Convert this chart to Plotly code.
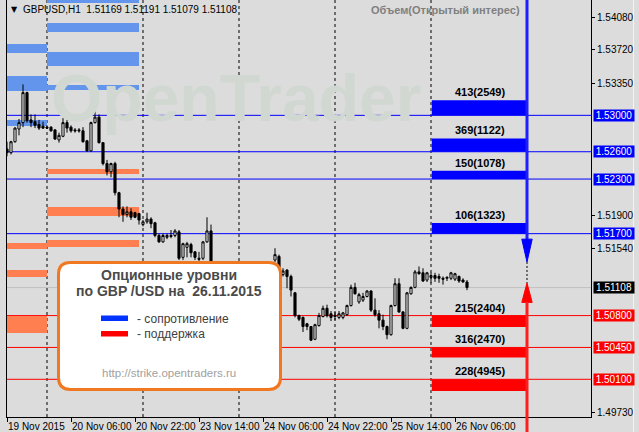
import plotly.graph_objects as go

# ---------------- data ----------------
bar_index = list(range(116))
opens = [1.5263, 1.5259, 1.5271, 1.5285, 1.5292, 1.5325, 1.5295, 1.5293, 1.5290, 1.5288,
         1.5287, 1.5287, 1.5284, 1.5273, 1.5277, 1.5292, 1.5287, 1.5284, 1.5284, 1.5283,
         1.5272, 1.5261, 1.5292, 1.5298, 1.5270, 1.5247, 1.5238, 1.5247, 1.5215, 1.5197,
         1.5191, 1.5194, 1.5193, 1.5192, 1.5180, 1.5183, 1.5186, 1.5182, 1.5168, 1.5161,
         1.5166, 1.5168, 1.5168, 1.5172, 1.5144, 1.5155, 1.5158, 1.5150, 1.5143, 1.5143,
         1.5161, 1.5173, 1.5125, 1.5116, 1.5121, 1.5118, 1.5108, 1.5112, 1.5117, 1.5111,
         1.5114, 1.5122, 1.5116, 1.5121, 1.5127, 1.5123, 1.5130, 1.5141, 1.5145, 1.5125,
         1.5130, 1.5123, 1.5105, 1.5080, 1.5078, 1.5071, 1.5068, 1.5054, 1.5069, 1.5079,
         1.5088, 1.5082, 1.5080, 1.5078, 1.5078, 1.5081, 1.5091, 1.5111, 1.5095, 1.5097,
         1.5101, 1.5107, 1.5086, 1.5082, 1.5075, 1.5068, 1.5059, 1.5091, 1.5115, 1.5084,
         1.5066, 1.5104, 1.5111, 1.5128, 1.5127, 1.5119, 1.5122, 1.5124, 1.5123, 1.5121,
         1.5121, 1.5121, 1.5120, 1.5123, 1.5119, 1.51169]
highs = [1.5271, 1.5272, 1.5287, 1.5296, 1.5334, 1.5326, 1.5301, 1.5301, 1.5295, 1.5293,
         1.5289, 1.5288, 1.5285, 1.5281, 1.5297, 1.5295, 1.5289, 1.5286, 1.5286, 1.5287,
         1.5273, 1.5293, 1.5309, 1.5301, 1.5270, 1.5251, 1.5248, 1.5249, 1.5216, 1.5200,
         1.5200, 1.5198, 1.5194, 1.5193, 1.5185, 1.5193, 1.5188, 1.5183, 1.5170, 1.5170,
         1.5170, 1.5174, 1.5175, 1.5174, 1.5160, 1.5161, 1.5160, 1.5151, 1.5150, 1.5162,
         1.5188, 1.5180, 1.5130, 1.5124, 1.5128, 1.5122, 1.5115, 1.5120, 1.5121, 1.5116,
         1.5125, 1.5126, 1.5124, 1.5130, 1.5131, 1.5133, 1.5136, 1.5154, 1.5147, 1.5132,
         1.5131, 1.5125, 1.5106, 1.5081, 1.5079, 1.5072, 1.5068, 1.5071, 1.5083, 1.5091,
         1.5092, 1.5085, 1.5085, 1.5085, 1.5084, 1.5092, 1.5114, 1.5116, 1.5105, 1.5105,
         1.5108, 1.5108, 1.5099, 1.5086, 1.5081, 1.5069, 1.5092, 1.5121, 1.5121, 1.5085,
         1.5106, 1.5112, 1.5130, 1.5134, 1.5132, 1.5128, 1.5127, 1.5127, 1.5126, 1.5123,
         1.5123, 1.5128, 1.5127, 1.5124, 1.5121, 1.51191]
lows = [1.5255, 1.5257, 1.5270, 1.5278, 1.5287, 1.5292, 1.5287, 1.5286, 1.5284, 1.5285,
        1.5285, 1.5282, 1.5273, 1.5270, 1.5276, 1.5281, 1.5281, 1.5281, 1.5281, 1.5270,
        1.5260, 1.5260, 1.5291, 1.5269, 1.5245, 1.5234, 1.5232, 1.5212, 1.5188, 1.5183,
        1.5188, 1.5185, 1.5187, 1.5180, 1.5178, 1.5181, 1.5176, 1.5166, 1.5160, 1.5160,
        1.5164, 1.5165, 1.5166, 1.5141, 1.5141, 1.5144, 1.5144, 1.5141, 1.5139, 1.5141,
        1.5160, 1.5122, 1.5112, 1.5110, 1.5115, 1.5105, 1.5101, 1.5108, 1.5109, 1.5104,
        1.5112, 1.5113, 1.5114, 1.5118, 1.5119, 1.5121, 1.5127, 1.5139, 1.5132, 1.5123,
        1.5110, 1.5101, 1.5078, 1.5074, 1.5062, 1.5064, 1.5052, 1.5053, 1.5068, 1.5078,
        1.5078, 1.5074, 1.5075, 1.5076, 1.5076, 1.5080, 1.5090, 1.5103, 1.5093, 1.5095,
        1.5100, 1.5084, 1.5079, 1.5066, 1.5064, 1.5054, 1.5058, 1.5090, 1.5083, 1.5065,
        1.5065, 1.5103, 1.5110, 1.5125, 1.5117, 1.5117, 1.5116, 1.5117, 1.5116, 1.5114,
        1.5118, 1.5119, 1.5118, 1.5116, 1.5116, 1.51079]
closes = [1.5259, 1.5271, 1.5286, 1.5292, 1.5325, 1.5294, 1.5292, 1.5289, 1.5286, 1.5286,
          1.5286, 1.5283, 1.5274, 1.5278, 1.5292, 1.5286, 1.5283, 1.5283, 1.5283, 1.5271,
          1.5261, 1.5292, 1.5298, 1.5270, 1.5247, 1.5238, 1.5247, 1.5215, 1.5197, 1.5191,
          1.5194, 1.5188, 1.5188, 1.5185, 1.5183, 1.5186, 1.5181, 1.5168, 1.5161, 1.5168,
          1.5168, 1.5167, 1.5173, 1.5143, 1.5159, 1.5159, 1.5149, 1.5144, 1.5142, 1.5161,
          1.5173, 1.5125, 1.5116, 1.5121, 1.5118, 1.5108, 1.5112, 1.5117, 1.5111, 1.5114,
          1.5122, 1.5116, 1.5121, 1.5127, 1.5123, 1.5130, 1.5135, 1.5147, 1.5133, 1.5129,
          1.5123, 1.5108, 1.5080, 1.5076, 1.5068, 1.5068, 1.5053, 1.5070, 1.5080, 1.5088,
          1.5080, 1.5078, 1.5079, 1.5082, 1.5083, 1.5091, 1.5111, 1.5104, 1.5103, 1.5101,
          1.5107, 1.5086, 1.5081, 1.5075, 1.5068, 1.5059, 1.5091, 1.5115, 1.5084, 1.5066,
          1.5105, 1.5111, 1.5128, 1.5126, 1.5118, 1.5127, 1.5124, 1.5121, 1.5121, 1.5120,
          1.5122, 1.5127, 1.5126, 1.5118, 1.5117, 1.51108]

x_tick_index = [0, 16, 32, 48, 64, 80, 96, 112]
x_tick_labels = ["19 Nov 2015", "20 Nov 06:00", "20 Nov 22:00", "23 Nov 14:00",
                 "24 Nov 06:00", "24 Nov 22:00", "25 Nov 14:00", "26 Nov 06:00"]
day_start_index = [10, 34, 58, 82, 106]

y_tick_values = [1.54080, 1.53720, 1.53350, 1.51900, 1.51540, 1.49730]

resistance_levels = [1.5300, 1.5260, 1.5230, 1.5170]
resistance_labels = ["413(2549)", "369(1122)", "150(1078)", "106(1323)"]
resistance_bar_heights = [0.00165, 0.00146, 0.00091, 0.00117]
support_levels = [1.5080, 1.5045, 1.5010]
support_labels = ["215(2404)", "316(2470)", "228(4945)"]
support_bar_heights = [0.00124, 0.00110, 0.00128]
current_price = 1.51108
header_ohlc = "1.51169 1.51191 1.51079 1.51108"

# earlier days' option zones (price bottom, price top)
zones_19nov_res = [(1.53684, 1.53783), (1.53267, 1.53432), (1.52883, 1.52949)]
zones_19nov_sup = [(1.51531, 1.51597), (1.51224, 1.51301), (1.50609, 1.50795)]
zones_20nov_res = [(1.54234, 1.54400), (1.53915, 1.54014), (1.53542, 1.53696), (1.53278, 1.53333)]
zones_20nov_sup = [(1.52355, 1.52410), (1.51894, 1.51993), (1.51553, 1.51630)]

# ---------------- geometry helpers (pixel -> paper) ----------------
W, H = 639, 432
ML, MR, MT, MB = 7, 48, 0, 15
PW, PH = W - ML - MR, H - MT - MB


def px(x):
    return (x - ML) / PW


def py(y):
    return (H - MB - y) / PH


FONT = "Liberation Sans, Arial, sans-serif"
BG = "#dcdcdc"

fig = go.Figure()

# watermark (behind candles)
fig.add_trace(go.Scatter(
    x=[11.0], y=[1.5312], mode="text", text=["<b>OpenTrader</b>"],
    textposition="middle right",
    textfont=dict(family=FONT, size=66, color="#d1d8d1"),
    hoverinfo="skip", showlegend=False))

fig.add_trace(go.Candlestick(
    x=bar_index, open=opens, high=highs, low=lows, close=closes,
    increasing=dict(line=dict(color="black", width=1), fillcolor="white"),
    decreasing=dict(line=dict(color="black", width=1), fillcolor="black"),
    whiskerwidth=0, showlegend=False))

shapes = []
# earlier days' zones
for lo, hi in zones_19nov_res:
    shapes.append(dict(type="rect", xref="x", yref="y", x0=-6, x1=10, y0=lo, y1=hi,
                       fillcolor="#6495ed", line=dict(width=0), layer="below"))
for lo, hi in zones_19nov_sup:
    shapes.append(dict(type="rect", xref="x", yref="y", x0=-6, x1=10, y0=lo, y1=hi,
                       fillcolor="#ff7f50", line=dict(width=0), layer="below"))
for lo, hi in zones_20nov_res:
    shapes.append(dict(type="rect", xref="x", yref="y", x0=10, x1=33, y0=lo, y1=hi,
                       fillcolor="#6495ed", line=dict(width=0), layer="below"))
for lo, hi in zones_20nov_sup:
    shapes.append(dict(type="rect", xref="x", yref="y", x0=10, x1=33, y0=lo, y1=hi,
                       fillcolor="#ff7f50", line=dict(width=0), layer="below"))

# today's option bars
for lvl, hgt in zip(resistance_levels, resistance_bar_heights):
    shapes.append(dict(type="rect", xref="x", yref="y", x0=106.2, x1=130, y0=lvl, y1=lvl + hgt,
                       fillcolor="#0000ff", line=dict(width=0), layer="below"))
for lvl, hgt in zip(support_levels, support_bar_heights):
    shapes.append(dict(type="rect", xref="x", yref="y", x0=106.2, x1=130, y0=lvl - hgt, y1=lvl,
                       fillcolor="#ff0000", line=dict(width=0), layer="below"))

# day separators
for d in day_start_index:
    shapes.append(dict(type="line", xref="x", yref="paper", x0=d, x1=d, y0=0, y1=1,
                       line=dict(color="black", width=1, dash="3px,3px"), layer="below"))

# level lines
for lvl in resistance_levels:
    shapes.append(dict(type="line", xref="paper", yref="y", x0=0, x1=1, y0=lvl, y1=lvl,
                       line=dict(color="#0000ff", width=1), layer="below"))
for lvl in support_levels:
    shapes.append(dict(type="line", xref="paper", yref="y", x0=0, x1=1, y0=lvl, y1=lvl,
                       line=dict(color="#ff0000", width=1), layer="below"))
shapes.append(dict(type="line", xref="paper", yref="y", x0=0, x1=1, y0=current_price,
                   y1=current_price, line=dict(color="#c0c0c0", width=1), layer="below"))

# forecast arrows
ARX = 130
shapes.append(dict(type="line", xref="x", yref="y", x0=ARX, x1=ARX, y0=1.5440, y1=1.5162,
                   line=dict(color="rgb(30,30,255)", width=3), layer="above"))
shapes.append(dict(type="path", xref="x", yref="y",
                   path=f"M {ARX-1.3},1.51640 L {ARX+1.3},1.51640 L {ARX},1.51389 Z",
                   fillcolor="#0000ff", line=dict(color="#0000ff", width=1), layer="above"))
shapes.append(dict(type="line", xref="x", yref="y", x0=ARX, x1=ARX, y0=1.51389, y1=1.51158,
                   line=dict(color="black", width=1, dash="2px,2px"), layer="above"))
shapes.append(dict(type="path", xref="x", yref="y",
                   path=f"M {ARX-1.3},1.50945 L {ARX+1.3},1.50945 L {ARX},1.51158 Z",
                   fillcolor="#ff0000", line=dict(color="#ff0000", width=1), layer="above"))
shapes.append(dict(type="line", xref="x", yref="y", x0=ARX, x1=ARX, y0=1.50950, y1=1.4900,
                   line=dict(color="rgb(255,30,30)", width=3), layer="above"))
shapes.append(dict(type="line", xref="paper", yref="paper", x0=px(527), x1=px(527),
                   y0=py(417), y1=py(433),
                   line=dict(color="rgb(255,30,30)", width=3), layer="above"))

# info box (rounded)
bx0, bx1, by0, by1, r = 58.5, 280.5, 262.5, 389.5, 12


def P(x, y):
    return f"{px(x):.5f},{py(y):.5f}"


box_path = (f"M {P(bx0 + r, by0)} L {P(bx1 - r, by0)} Q {P(bx1, by0)} {P(bx1, by0 + r)} "
            f"L {P(bx1, by1 - r)} Q {P(bx1, by1)} {P(bx1 - r, by1)} "
            f"L {P(bx0 + r, by1)} Q {P(bx0, by1)} {P(bx0, by1 - r)} "
            f"L {P(bx0, by0 + r)} Q {P(bx0, by0)} {P(bx0 + r, by0)} Z")
shapes.append(dict(type="path", xref="paper", yref="paper", path=box_path,
                   fillcolor="white", line=dict(color="#f07820", width=3), layer="above"))
shapes.append(dict(type="rect", xref="paper", yref="paper", x0=px(101), x1=px(128),
                   y0=py(321), y1=py(315.5), fillcolor="#0033ff", line=dict(width=0),
                   layer="above"))
shapes.append(dict(type="rect", xref="paper", yref="paper", x0=px(101), x1=px(128),
                   y0=py(336.5), y1=py(331), fillcolor="#ff0000", line=dict(width=0),
                   layer="above"))
# window edge line
shapes.append(dict(type="line", xref="paper", yref="paper", x0=px(633.5), x1=px(633.5),
                   y0=py(432), y1=py(0), line=dict(color="#f4f4f4", width=1), layer="above"))

annotations = []
# axis price labels
for lvl in resistance_levels:
    annotations.append(dict(xref="paper", yref="y", x=1, y=lvl, xanchor="left", yanchor="middle",
                            xshift=2, text=f"{lvl:.5f}", showarrow=False, bgcolor="#0000ff",
                            font=dict(family=FONT, size=10, color="white"), width=40, height=11,
                            borderpad=0, align="center"))
for lvl in support_levels:
    annotations.append(dict(xref="paper", yref="y", x=1, y=lvl, xanchor="left", yanchor="middle",
                            xshift=2, text=f"{lvl:.5f}", showarrow=False, bgcolor="#ff0000",
                            font=dict(family=FONT, size=10, color="white"), width=40, height=11,
                            borderpad=0, align="center"))
annotations.append(dict(xref="paper", yref="y", x=1, y=current_price, xanchor="left",
                        yanchor="middle", xshift=2, text=f"{current_price:.5f}", showarrow=False,
                        bgcolor="black", font=dict(family=FONT, size=10, color="white"),
                        width=40, height=11, borderpad=0, align="center"))

# bar labels
for lvl, hgt, lab in zip(resistance_levels, resistance_bar_heights, resistance_labels):
    annotations.append(dict(xref="x", yref="y", x=118.3, y=lvl + hgt, yanchor="bottom",
                            xanchor="center", text=f"<b>{lab}</b>", showarrow=False,
                            font=dict(family=FONT, size=11, color="black"), yshift=0))
for lvl, lab in zip(support_levels, support_labels):
    annotations.append(dict(xref="x", yref="y", x=118.3, y=lvl, yanchor="bottom",
                            xanchor="center", text=f"<b>{lab}</b>", showarrow=False,
                            font=dict(family=FONT, size=11, color="black"), yshift=0))

# header
annotations.append(dict(xref="paper", yref="paper", x=px(9), y=py(10), xanchor="left",
                        yanchor="middle", text="▼", showarrow=False,
                        font=dict(family="DejaVu Sans", size=8, color="black")))
annotations.append(dict(xref="paper", yref="paper", x=px(21), y=py(10), xanchor="left",
                        yanchor="middle", text="GBPUSD,H1  " + header_ohlc, showarrow=False,
                        font=dict(family=FONT, size=10, color="black")))
annotations.append(dict(xref="paper", yref="paper", x=px(445), y=py(10), xanchor="center",
                        yanchor="middle", text="<b>Объем(Открытый интерес)</b>", showarrow=False,
                        font=dict(family=FONT, size=11, color="#808080")))

# info box texts
annotations.append(dict(xref="paper", yref="paper", x=px(168.5), y=py(275), xanchor="center",
                        yanchor="middle", text="<b>Опционные уровни</b>", showarrow=False,
                        font=dict(family=FONT, size=14, color="#4a4a4a")))
annotations.append(dict(xref="paper", yref="paper", x=px(168.5), y=py(290.5), xanchor="center",
                        yanchor="middle", text="<b>по GBP /USD на  26.11.2015</b>",
                        showarrow=False, font=dict(family=FONT, size=14, color="#4a4a4a")))
annotations.append(dict(xref="paper", yref="paper", x=px(135), y=py(318.5), xanchor="left",
                        yanchor="middle", text="- сопротивление", showarrow=False,
                        font=dict(family=FONT, size=12, color="#404040")))
annotations.append(dict(xref="paper", yref="paper", x=px(135), y=py(334), xanchor="left",
                        yanchor="middle", text="- поддержка", showarrow=False,
                        font=dict(family=FONT, size=12, color="#404040")))
annotations.append(dict(xref="paper", yref="paper", x=px(169), y=py(372.5), xanchor="center",
                        yanchor="middle", text="http://strike.opentraders.ru", showarrow=False,
                        font=dict(family=FONT, size=11.5, color="#a0a0a0")))

fig.update_layout(
    width=W, height=H,
    margin=dict(l=ML, r=MR, t=MT, b=MB, pad=0, autoexpand=False),
    paper_bgcolor=BG, plot_bgcolor=BG,
    showlegend=False, boxgap=0.25,
    shapes=shapes, annotations=annotations,
    font=dict(family=FONT, size=10, color="black"),
    xaxis=dict(range=[0, 146], showgrid=False, zeroline=False, showline=True,
               linecolor="black", linewidth=1, ticks="outside", ticklen=4,
               tickcolor="black", tickvals=x_tick_index, ticktext=x_tick_labels,
               tickangle=0, automargin=False,
               ticklabelposition="outside right", tickfont=dict(family=FONT, size=10),
               rangeslider=dict(visible=False), fixedrange=True),
    yaxis=dict(range=[1.49686, 1.54267], side="right", showgrid=False, zeroline=False,
               showline=True, mirror=True, linecolor="black", linewidth=1,
               ticks="outside", ticklen=3, tickcolor="black", automargin=False,
               tickvals=y_tick_values, ticktext=[f"{v:.5f}" for v in y_tick_values],
               tickfont=dict(family=FONT, size=10), fixedrange=True),
)

fig.write_html(
    "out.html",
    config={"displayModeBar": False},
    post_script="document.body.style.margin='0';document.body.style.padding='0';"
                "document.body.style.overflow='hidden';document.body.style.background='#dcdcdc';",
)
